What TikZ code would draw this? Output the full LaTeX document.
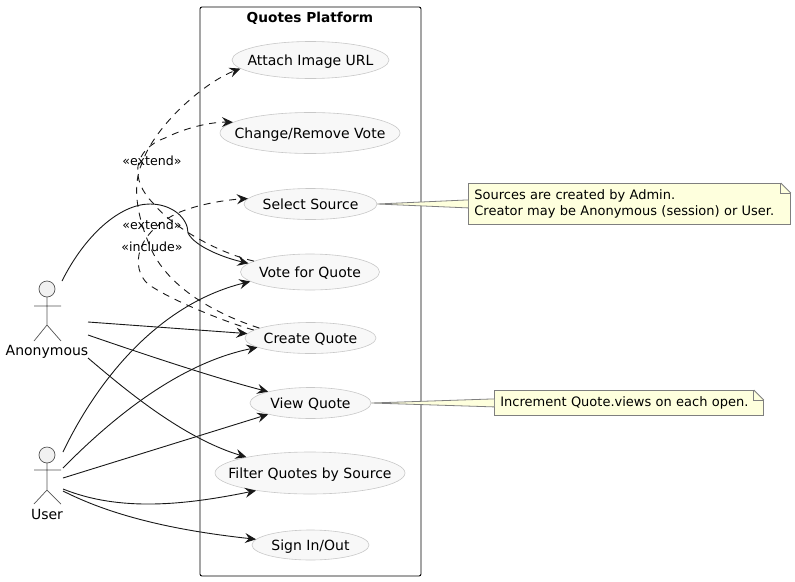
\documentclass[tikz,border=0pt]{standalone}
\usepackage{fontspec}
\setmainfont{DejaVu Sans}
\usetikzlibrary{arrows.meta,shapes.geometric}

\definecolor{linecol}{HTML}{181818}
\definecolor{actorcol}{HTML}{555555}
\definecolor{actorfill}{HTML}{F1F1F1}
\definecolor{casecol}{HTML}{C8C8C8}
\definecolor{casefill}{HTML}{F8F8F8}
\definecolor{notecol}{HTML}{7F7F7F}
\definecolor{notefill}{HTML}{FEFFDD}

\newcommand{\casetext}[1]{\makebox[0pt]{#1}}

\tikzset{
	usecase/.style={ellipse,draw=casecol,fill=casefill,line width=0.6pt,inner sep=0pt,text height=10pt,text depth=0pt,font=\fontsize{14}{16}\selectfont},
	actorlabel/.style={inner sep=0pt,text height=10pt,text depth=0pt,font=\fontsize{14}{16}\selectfont},
	steretype/.style={inner sep=0pt,anchor=base,font=\fontsize{12.6}{15}\selectfont},
	notebox/.style={draw=notecol,fill=notefill,line width=0.8pt,inner sep=0pt,inner xsep=6pt,anchor=north west,align=left,font=\fontsize{13}{15.2}\selectfont},
	notefold/.style={draw=notecol,line width=0.8pt},
	assoc/.style={draw=linecol,line width=0.9pt,-{Stealth[length=11pt,width=10pt,inset=4pt]}},
	depend/.style={assoc,dash pattern=on 7pt off 6pt},
}

\begin{document}
\begin{tikzpicture}[x=1pt,y=-1pt]
	\useasboundingbox (0,0) rectangle (795,581);

	% system frame
	\draw[black,line width=0.9pt,rounded corners=2pt] (200,7) rectangle (421,576);
	\node[inner sep=0pt,text height=10pt,text depth=0pt,font=\fontsize{13.7}{16}\selectfont\bfseries] (title) at (310,17) {Quotes Platform};

	% use cases
	\node[usecase,minimum width=157pt,minimum height=37pt] (attach) at (310.5,60) {\casetext{Attach Image URL}};
	\node[usecase,minimum width=180pt,minimum height=41pt] (change) at (310,133) {\casetext{Change/Remove Vote}};
	\node[usecase,minimum width=133pt,minimum height=31pt] (select) at (310.5,204) {\casetext{Select Source}};
	\node[usecase,minimum width=139pt,minimum height=36pt] (vote) at (310,272) {\casetext{Vote for Quote}};
	\node[usecase,minimum width=131pt,minimum height=31pt] (create) at (310.5,338) {\casetext{Create Quote}};
	\node[usecase,minimum width=121pt,minimum height=31pt] (view) at (310.5,403) {\casetext{View Quote}};
	\node[usecase,minimum width=190pt,minimum height=42pt] (filter) at (310,473) {\casetext{Filter Quotes by Source}};
	\node[usecase,minimum width=117pt,minimum height=30pt] (sign) at (310.5,545) {\casetext{Sign In/Out}};

	% actors
	\node[actorlabel] (anon) at (47,350) {Anonymous};
	\node[actorlabel] (user) at (47,514) {User};
	\draw[actorcol,fill=actorfill,line width=0.7pt] (47,289) circle[radius=8pt];
	\draw[actorcol,line width=0.7pt] (47,297) -- (47,325) (34,306) -- (61,306) (34,341) -- (47,325) -- (61,341);
	\draw[actorcol,fill=actorfill,line width=0.7pt] (47,455) circle[radius=8pt];
	\draw[actorcol,line width=0.7pt] (47,463) -- (47,490) (34,470) -- (61,470) (34,504) -- (47,490) -- (61,504);

	% free ends at the actors
	\coordinate (anonA) at (62,281);
	\coordinate (anonB) at (88,322);
	\coordinate (anonC) at (88,335);
	\coordinate (anonD) at (88,358);
	\coordinate (userA) at (63,452);
	\coordinate (userB) at (63,468);
	\coordinate (userC) at (63,478);
	\coordinate (userD) at (63,489);
	\coordinate (userE) at (63,491);

	% dependencies
	\draw[depend] (create.172) .. controls (228,323) and (170,300) .. (148,284)
		.. controls (130,268) and (135,232) .. (180,212)
		.. controls (200,204) and (225,200) .. (select.175);
	\draw[depend] (create.169) .. controls (228,318) and (175,295) .. (153,253)
		.. controls (140,225) and (130,190) .. (142,163)
		.. controls (155,125) and (205,82) .. (attach.187);
	\draw[depend] (vote.169) .. controls (215,252) and (170,225) .. (153,203)
		.. controls (130,180) and (132,150) .. (165,138)
		.. controls (185,128) and (210,122) .. (change.172);

	% associations
	\draw[assoc] (anonA) .. controls (85,235) and (120,204) .. (150,204)
		.. controls (172,204) and (188,218) .. (188,233)
		.. controls (195,247) and (225,258) .. (vote.172);
	\draw[assoc] (anonB) -- (create.176);
	\draw[assoc] (anonC) .. controls (140,353) and (215,378) .. (view.165);
	\draw[assoc] (anonD) .. controls (120,385) and (180,437) .. (filter.166);
	\draw[assoc] (userA) .. controls (95,385) and (155,305) .. (vote.189);
	\draw[assoc] (userB) .. controls (120,410) and (185,362) .. (create.190);
	\draw[assoc] (userC) -- (view.195);
	\draw[assoc] (userD) .. controls (120,512) and (185,505) .. (filter.198);
	\draw[assoc] (userE) .. controls (120,520) and (190,532) .. (sign.174);

	% stereotypes
	\node[steretype] (extA) at (152,165.5) {«extend»};
	\node[steretype] (extB) at (152,229.5) {«extend»};
	\node[steretype] (incl) at (152,251.5) {«include»};

	% notes
	\node[notebox,text width=310pt,minimum height=41pt] (srcnote) at (468,183) {Sources are created by Admin.\\Creator may be Anonymous (session) or User.};
	\fill[notefill] (select.east) -- ([yshift=4pt]srcnote.west) -- ([yshift=-4pt]srcnote.west) -- cycle;
	\draw[notefold] ([yshift=4pt]srcnote.west) -- (select.east) -- ([yshift=-4pt]srcnote.west);
	\fill[white] ([xshift=-10pt]srcnote.north east) -- ([yshift=-10pt]srcnote.north east) -- (srcnote.north east) -- cycle;
	\draw[notefold] ([xshift=-10pt]srcnote.north east) -- ([yshift=-10pt]srcnote.north east);
	\draw[notefold] ([xshift=-10pt]srcnote.north east) |- ([yshift=-10pt]srcnote.north east);

	\node[notebox,text width=257pt,minimum height=25pt] (viewnote) at (494,390) {Increment Quote.views on each open.};
	\fill[notefill] (view.east) -- ([yshift=4pt]viewnote.west) -- ([yshift=-4pt]viewnote.west) -- cycle;
	\draw[notefold] ([yshift=4pt]viewnote.west) -- (view.east) -- ([yshift=-4pt]viewnote.west);
	\fill[white] ([xshift=-10pt]viewnote.north east) -- ([yshift=-10pt]viewnote.north east) -- (viewnote.north east) -- cycle;
	\draw[notefold] ([xshift=-10pt]viewnote.north east) -- ([yshift=-10pt]viewnote.north east);
	\draw[notefold] ([xshift=-10pt]viewnote.north east) |- ([yshift=-10pt]viewnote.north east);
\end{tikzpicture}
\end{document}
